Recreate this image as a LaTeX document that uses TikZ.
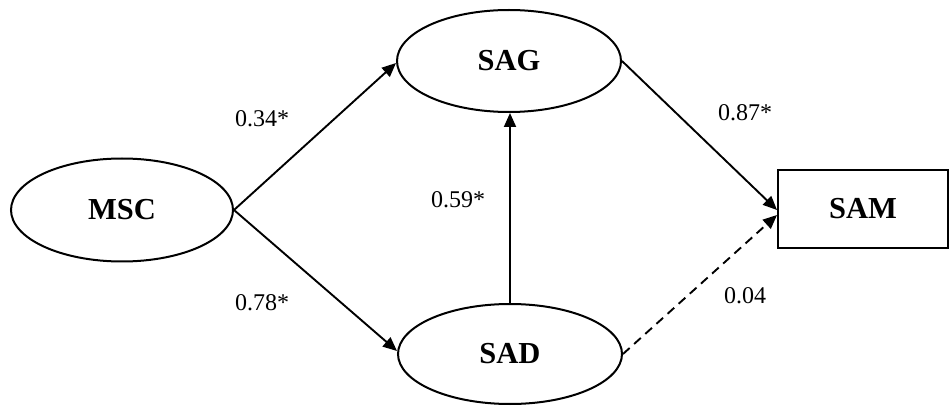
\documentclass[tikz,border=0pt]{standalone}
\usepackage{fontspec}
\setmainfont{Liberation Serif}
\usetikzlibrary{shapes.geometric,arrows.meta}
\begin{document}
\begin{tikzpicture}[x=1pt,y=-1pt,
  latent/.style={ellipse,draw,line width=2pt,inner sep=0pt,font=\fontsize{30.5}{33}\selectfont\bfseries},
  observed/.style={rectangle,draw,line width=2pt,inner sep=0pt,font=\fontsize{30.5}{33}\selectfont\bfseries},
  path/.style={line width=1.9pt,-{Triangle[length=14pt,width=12pt]}},
  coef/.style={font=\fontsize{24}{28}\selectfont,inner sep=0pt}]
\useasboundingbox (0,0) rectangle (951,406);
\node[latent,minimum width=222pt,minimum height=103pt] (MSC) at (122,210) {MSC};
\node[latent,minimum width=224pt,minimum height=102pt] (SAG) at (509,61) {SAG};
\node[latent,minimum width=224pt,minimum height=100pt] (SAD) at (510,354) {SAD};
\node[observed,minimum width=170pt,minimum height=78pt] (SAM) at (863,209) {SAM};
\coordinate (SAGin) at ([yshift=-2pt]SAG.west);
\coordinate (SADin) at ([yshift=3pt]SAD.west);
\coordinate (SAMa) at ([yshift=-1pt]SAM.west);
\coordinate (SAMb) at ([yshift=-6pt]SAM.west);
\draw[path] (MSC.east) -- (SAGin);
\draw[path] (MSC.east) -- (SADin);
\draw[path] (SAD.north) -- (SAD.north |- SAG.south);
\draw[path] (SAG.east) -- (SAMa);
\draw[path,dash pattern=on 9pt off 6pt] (SAD.east) -- (SAMb);
\node[coef] (c1) at (262,119) {0.34*};
\node[coef] (c2) at (262,303) {0.78*};
\node[coef] (c3) at (458,200) {0.59*};
\node[coef] (c4) at (745,113) {0.87*};
\node[coef] (c5) at (745,296) {0.04};
\end{tikzpicture}
\end{document}
